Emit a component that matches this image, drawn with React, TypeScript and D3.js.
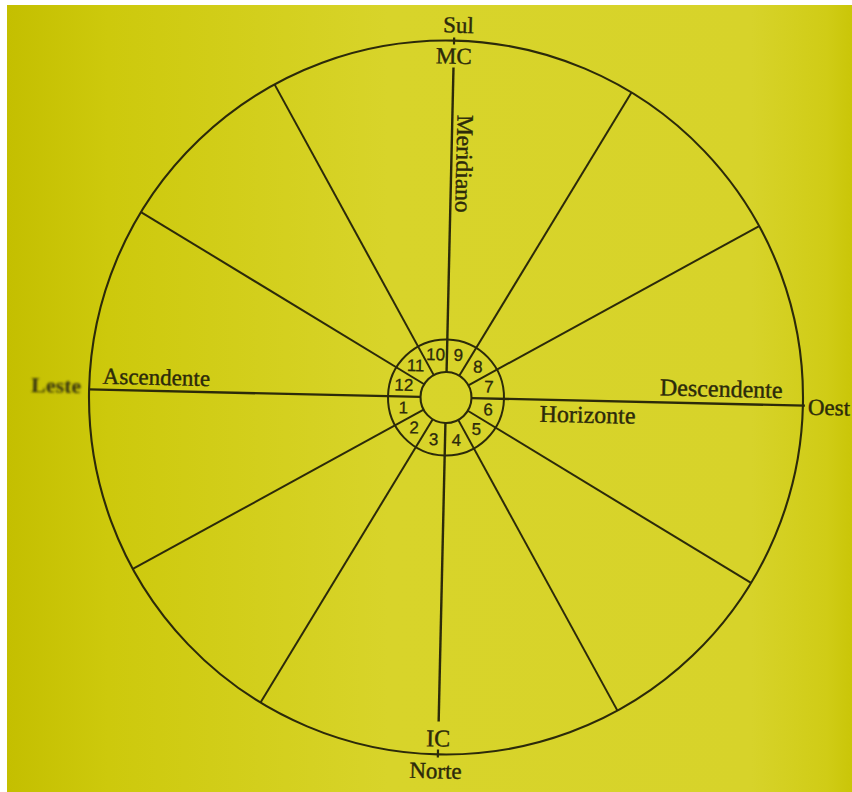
import * as d3 from 'd3';

// house cusps, in degrees counted from the Ascendant going counter-clockwise
const houseCusps = [0, 30, 60, 90, 120, 150, 180, 210, 240, 270, 300, 330];
const houseNumbers = [1, 2, 3, 4, 5, 6, 7, 8, 9, 10, 11, 12];
const compassPoints = { south: 'Sul', north: 'Norte', east: 'Leste', west: 'Oest' };
const angleNames = { mc: 'MC', ic: 'IC', asc: 'Ascendente', desc: 'Descendente' };
const axisNames = { meridian: 'Meridiano', horizon: 'Horizonte' };

const width = 852;
const height = 792;
const cx = 446;
const cy = 397.5;
const tilt = 1.3; // the scan is slightly turned

const radius = d3.scaleLinear().domain([0, 1]).range([0, 357]);
// d3.pointRadial measures clockwise from 12 o'clock; the Ascendant sits at 9 o'clock
const angle = d3.scaleLinear().domain([0, 360]).range([1.5 * Math.PI, -0.5 * Math.PI]);

const R = radius(1);
const rInner = 25.5;
const rRing = 58;
const rNumber = 44;

const ink = '#2c2a0a';
const serif = '"Liberation Serif", "DejaVu Serif", serif';

function seg(deg: number, r0: number, r1: number) {
  const [x0, y0] = d3.pointRadial(angle(deg), r0);
  const [x1, y1] = d3.pointRadial(angle(deg), r1);
  return { x1: x0, y1: y0, x2: x1, y2: y1 };
}

export default function App() {
  const axisCusps = [0, 90, 180, 270];
  const spokes = houseCusps.filter(d => !axisCusps.includes(d));

  return (
    <svg width={width} height={height} viewBox={`0 0 ${width} ${height}`}
      style={{ position: 'absolute', left: 0, top: 0, display: 'block' }}>
      <defs>
        <linearGradient id="page" x1="0" x2="1" y1="0" y2="0">
          <stop offset="0" stopColor="#c4bf00" />
          <stop offset="0.12" stopColor="#cdc90c" />
          <stop offset="0.45" stopColor="#d8d42a" />
          <stop offset="0.88" stopColor="#d7d32a" />
          <stop offset="0.97" stopColor="#d0cc16" />
          <stop offset="1" stopColor="#cac608" />
        </linearGradient>
        <filter id="soft" x="-20%" y="-50%" width="140%" height="200%">
          <feGaussianBlur stdDeviation="0.9" />
        </filter>
      </defs>
      <rect width={width} height={height} fill="#ffffff" />
      <rect x={7} y={5} width={width - 7} height={height - 5} fill="url(#page)" />

      <g transform={`translate(${cx},${cy}) rotate(${tilt})`} stroke={ink} fill="none">
        <circle r={R} strokeWidth={2.1} />
        <circle r={rRing} strokeWidth={2} />
        <circle r={rInner} strokeWidth={2.1} />

        {spokes.map(d => (
          <line key={d} {...seg(d, rInner, R)} strokeWidth={2} />
        ))}

        {/* horizon */}
        <line {...seg(0, rInner, R)} strokeWidth={2.4} />
        <line {...seg(180, rInner, R + 2)} strokeWidth={2.4} />
        {/* meridian, broken by MC and IC */}
        <line {...seg(270, rInner, R - 27)} strokeWidth={2.4} />
        <line {...seg(270, R - 4, R + 3)} strokeWidth={2.2} />
        <line {...seg(90, rInner, R - 33)} strokeWidth={2.4} />
        <line {...seg(90, R - 5, R + 3)} strokeWidth={2.2} />

        <g stroke={ink} strokeWidth={0.3} fill={ink} fontFamily='"Liberation Sans", Arial, sans-serif'
          fontSize={17} textAnchor="middle" dominantBaseline="central">
          {houseNumbers.map((n, i) => {
            const [x, y] = d3.pointRadial(angle(houseCusps[i] + 15), rNumber);
            return <text key={n} x={x} y={y}>{n}</text>;
          })}
        </g>

        <g stroke={ink} strokeWidth={0.4} fill={ink} fontFamily={serif} fontSize={23}>
          <text x={4} y={-365} textAnchor="middle">{compassPoints.south}</text>
          <text x={0} y={-334} textAnchor="middle">{angleNames.mc}</text>
          <text x={0} y={349} textAnchor="middle" fontSize={24}>{angleNames.ic}</text>
          <text x={-2} y={381} textAnchor="middle">{compassPoints.north}</text>
          <text x={-290} y={-6} textAnchor="middle">{angleNames.asc}</text>
          <text x={275} y={-7} textAnchor="middle" fontSize={24}>{angleNames.desc}</text>
          <text x={142} y={22} textAnchor="middle" fontSize={24}>{axisNames.horizon}</text>
          <text x={362} y={9}>{compassPoints.west}</text>
          <text transform="translate(5,-283) rotate(90)" fontSize={23.5}>{axisNames.meridian}</text>
          <text x={-390} y={4} textAnchor="middle" fontSize={22} fontWeight="bold" stroke="none"
            fill="#35330c" filter="url(#soft)">{compassPoints.east}</text>
        </g>
      </g>
    </svg>
  );
}
